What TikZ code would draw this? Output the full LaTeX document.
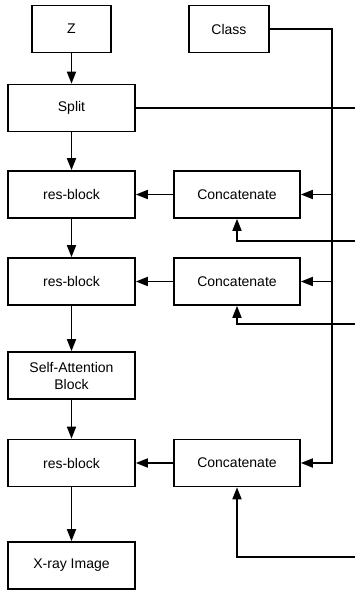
\documentclass[tikz,border=0pt]{standalone}
\usepackage{fontspec}
\setmainfont{Liberation Sans}
\usetikzlibrary{arrows.meta}
\begin{document}
\begin{tikzpicture}[x=1pt,y=-1pt,
  box/.style={draw, line width=1.6pt, inner sep=0pt, minimum width=127pt, minimum height=47pt,
    align=center, font=\fontsize{14}{17}\selectfont},
  ln/.style={line width=1.6pt},
  arr/.style={line width=1.6pt, -{Triangle[length=12pt,width=9pt]}}]
\useasboundingbox (0,0) rectangle (354,592);
\node[box, minimum width=79pt] (z) at (71.5,29) {Z};
\node[box, minimum width=80pt] (cls) at (229,29) {Class};
\node[box] (split) at (71.5,108) {Split};
\node[box] (rb1) at (71.5,194.5) {res-block};
\node[box, minimum width=126pt] (cc1) at (237,194.5) {Concatenate};
\node[box] (rb2) at (71.5,281.5) {res-block};
\node[box, minimum width=126pt] (cc2) at (237,281.5) {Concatenate};
\node[box] (sa) at (71.5,375.5) {Self-Attention\\Block};
\node[box] (rb3) at (71.5,463) {res-block};
\node[box, minimum width=126pt] (cc3) at (237,463) {Concatenate};
\node[box] (xr) at (71.5,565.5) {X-ray Image};
\coordinate (bus) at (332,29);
\coordinate (sp) at (356,108);
\coordinate (r1) at (356,241);
\coordinate (r2) at (356,324);
\coordinate (r3) at (356,557);
\draw[arr] (z) -- (split);
\draw[arr] (split) -- (rb1);
\draw[arr] (rb1) -- (rb2);
\draw[arr] (rb2) -- (sa);
\draw[arr] (sa) -- (rb3);
\draw[arr] (rb3) -- (xr);
\draw[arr] (cc1) -- (rb1);
\draw[arr] (cc2) -- (rb2);
\draw[arr] (cc3) -- (rb3);
\draw[arr] (cls.east) -- (bus) |- (cc3.east);
\draw[arr] (bus |- cc1.east) -- (cc1.east);
\draw[arr] (bus |- cc2.east) -- (cc2.east);
\draw[ln] (split.east) -- (sp);
\draw[arr] (r1) -| (cc1.south);
\draw[arr] (r2) -| (cc2.south);
\draw[arr] (r3) -| (cc3.south);
\end{tikzpicture}
\end{document}
